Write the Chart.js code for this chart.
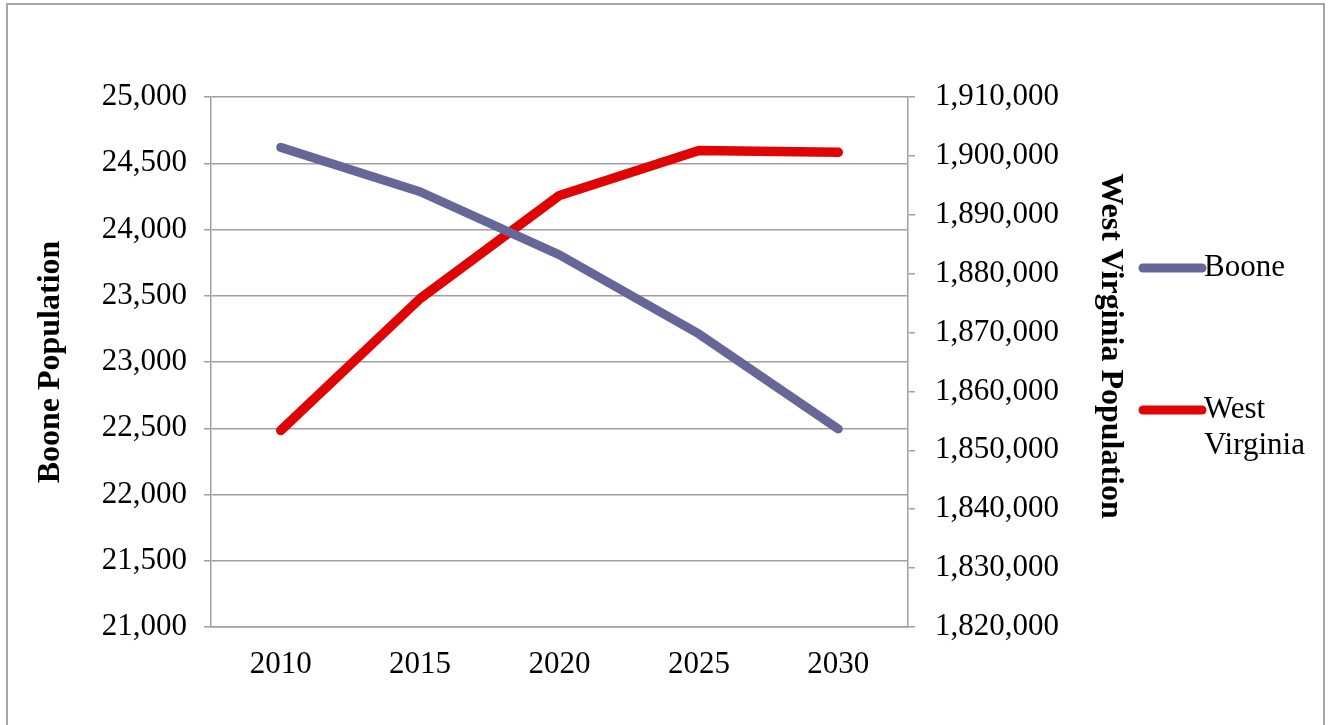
<!DOCTYPE html>
<html>
<head>
<meta charset="utf-8">
<title>Boone and West Virginia Population</title>
<script src="https://cdn.jsdelivr.net/npm/chart.js@4/dist/chart.umd.min.js"></script>
<style>
  html, body { margin: 0; padding: 0; background: #fff; overflow: hidden; }
  #wrap { position: relative; width: 1331px; height: 725px; }
</style>
</head>
<body>
<div id="wrap"><canvas id="popChart" width="1331" height="725"></canvas></div>
<script>
// population projections, county vs. state
var years = ['2010', '2015', '2020', '2025', '2030'];
var boone = [24620, 24285, 23808, 23212, 22495];
var westVirginia = [1853370, 1875760, 1893290, 1900900, 1900600];

// axis ranges
var booneMin = 21000, booneMax = 25000, booneStep = 500;
var wvMin = 1820000, wvMax = 1910000, wvStep = 10000;

// legend text, one entry per dataset (wrapped lines)
var legendText = [['Boone'], ['West', 'Virginia']];

var serif = "'Liberation Serif', 'Times New Roman', serif";
var gridColor = '#a0a0a0';

function fmt(v) {
  return Number(v).toLocaleString('en-US');
}

// gray frame round the whole chart
var framePlugin = {
  id: 'frame',
  beforeDraw: function(chart) {
    var ctx = chart.ctx;
    ctx.save();
    ctx.fillStyle = '#fff';
    ctx.fillRect(0, 0, chart.width, chart.height);
    ctx.strokeStyle = '#a6a6a6';
    ctx.lineWidth = 2;
    ctx.strokeRect(7, 4, chart.width - 14, chart.height + 20);
    ctx.restore();
  }
};

// legend on the right, with labels that wrap onto two lines
var sideLegend = {
  id: 'sideLegend',
  afterDraw: function(chart) {
    var ctx = chart.ctx;
    var area = chart.chartArea;
    var x0 = 1143, x1 = 1202;
    var gap = 142;
    var lineH = 36;
    var mid = (area.top + area.bottom) / 2;
    var startY = mid - 94;
    ctx.save();
    ctx.font = '31px ' + serif;
    ctx.fillStyle = '#000';
    ctx.textBaseline = 'middle';
    ctx.textAlign = 'left';
    chart.data.datasets.forEach(function(ds, i) {
      var y = startY + i * gap;
      ctx.strokeStyle = ds.borderColor;
      ctx.lineWidth = 9;
      ctx.lineCap = 'round';
      ctx.beginPath();
      ctx.moveTo(x0, y);
      ctx.lineTo(x1, y);
      ctx.stroke();
      legendText[i].forEach(function(t, j) {
        ctx.fillText(t, x1 + 2, y + j * lineH);
      });
    });
    ctx.restore();
  }
};

var ctx = document.getElementById('popChart');
var chart = new Chart(ctx, {
  type: 'line',
  data: {
    labels: years,
    datasets: [
      {
        label: 'Boone',
        data: boone,
        yAxisID: 'y',
        borderColor: '#666699',
        borderWidth: 9,
        borderCapStyle: 'round',
        borderJoinStyle: 'round',
        pointRadius: 0,
        tension: 0,
        fill: false
      },
      {
        label: 'West Virginia',
        data: westVirginia,
        yAxisID: 'y1',
        borderColor: '#e00505',
        borderWidth: 9.5,
        borderCapStyle: 'round',
        borderJoinStyle: 'round',
        pointRadius: 0,
        tension: 0,
        fill: false
      }
    ]
  },
  options: {
    responsive: false,
    animation: false,
    devicePixelRatio: 1,
    layout: {
      padding: { top: 97, left: 30, right: 202, bottom: 0 }
    },
    plugins: {
      legend: { display: false },
      tooltip: { enabled: false }
    },
    scales: {
      x: {
        offset: true,
        grid: { display: false, drawTicks: false },
        border: { display: true, color: gridColor, width: 1.5 },
        ticks: { color: '#000', padding: 19, font: { family: serif, size: 31 } },
        afterFit: function(s) { s.height = 98; }
      },
      y: {
        position: 'left',
        min: booneMin,
        max: booneMax,
        ticks: {
          stepSize: booneStep,
          color: '#000',
          padding: 17,
          font: { family: serif, size: 31 },
          callback: function(v) { return fmt(v); }
        },
        grid: { color: gridColor, lineWidth: 1.5, tickLength: 7 },
        border: { display: true, color: gridColor, width: 1.5 },
        title: {
          display: true,
          text: 'Boone Population',
          color: '#000',
          padding: { top: 2, bottom: 0 },
          font: { family: serif, size: 32, weight: 'bold' }
        },
        afterFit: function(s) { s.width = 181; }
      },
      y1: {
        position: 'right',
        min: wvMin,
        max: wvMax,
        ticks: {
          stepSize: wvStep,
          color: '#000',
          padding: 20,
          font: { family: serif, size: 31 },
          callback: function(v) { return fmt(v); }
        },
        grid: { drawOnChartArea: false, color: gridColor, lineWidth: 1.5, tickLength: 7 },
        border: { display: true, color: gridColor, width: 1.5 },
        title: {
          display: true,
          // trailing spaces nudge the rotated title towards the top
          text: 'West Virginia Population    ',
          color: '#000',
          padding: { top: 0, bottom: 0 },
          font: { family: serif, size: 32, weight: 'bold' }
        },
        afterFit: function(s) { s.width = 221; }
      }
    }
  },
  plugins: [framePlugin, sideLegend]
});
</script>
</body>
</html>
